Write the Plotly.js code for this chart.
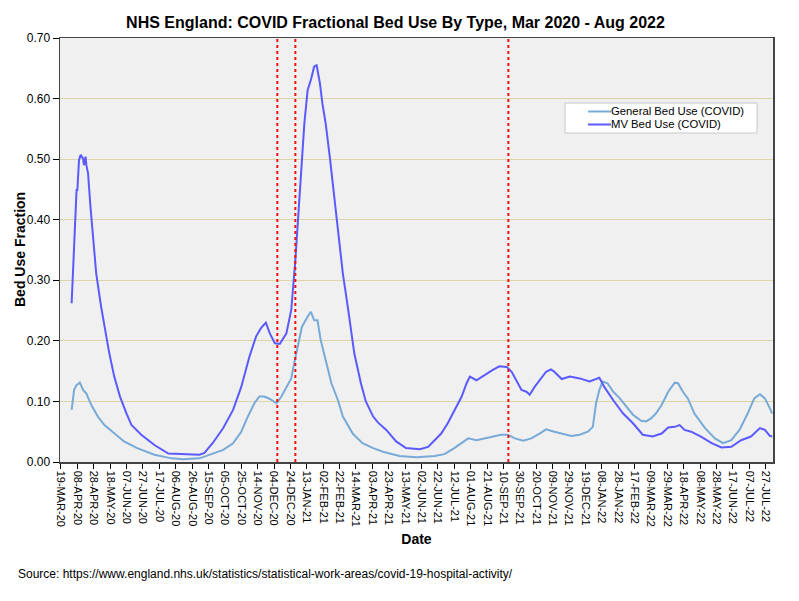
<!DOCTYPE html>
<html>
<head>
<meta charset="utf-8">
<script src="https://cdn.plot.ly/plotly-3.0.1.min.js"></script>
<style>html,body{margin:0;padding:0;background:#fff;}#chart{width:799px;height:601px;}</style>
</head>
<body>
<div id="chart"></div>
<script>
// MV (mechanical ventilation) bed use fraction
const mvDates = ["2020-04-01","2020-04-05","2020-04-07","2020-04-08","2020-04-10","2020-04-12","2020-04-15","2020-04-16","2020-04-18","2020-04-19","2020-04-21","2020-04-24","2020-04-27","2020-05-01","2020-05-07","2020-05-13","2020-05-17","2020-05-23","2020-05-30","2020-06-07","2020-06-13","2020-06-25","2020-07-11","2020-07-28","2020-08-09","2020-09-04","2020-09-10","2020-09-20","2020-10-03","2020-10-15","2020-10-25","2020-11-04","2020-11-12","2020-11-18","2020-11-24","2020-11-29","2020-12-05","2020-12-11","2020-12-19","2020-12-25","2020-12-30","2021-01-02","2021-01-06","2021-01-10","2021-01-14","2021-01-18","2021-01-22","2021-01-25","2021-01-29","2021-02-01","2021-02-05","2021-02-10","2021-02-14","2021-02-20","2021-02-26","2021-03-04","2021-03-12","2021-03-20","2021-03-26","2021-04-04","2021-04-10","2021-04-20","2021-05-02","2021-05-14","2021-05-31","2021-06-10","2021-06-18","2021-06-26","2021-07-04","2021-07-12","2021-07-21","2021-07-27","2021-07-31","2021-08-08","2021-08-18","2021-08-28","2021-09-05","2021-09-14","2021-09-20","2021-09-26","2021-10-02","2021-10-08","2021-10-12","2021-10-18","2021-10-26","2021-11-01","2021-11-07","2021-11-11","2021-11-20","2021-11-30","2021-12-12","2021-12-24","2022-01-05","2022-01-11","2022-01-22","2022-02-03","2022-02-15","2022-02-27","2022-03-11","2022-03-22","2022-03-30","2022-04-07","2022-04-13","2022-04-19","2022-04-27","2022-05-09","2022-05-22","2022-06-03","2022-06-15","2022-06-27","2022-07-09","2022-07-20","2022-07-26","2022-08-01","2022-08-04"];
const mvValues = [0.262,0.394,0.449,0.449,0.499,0.507,0.501,0.490,0.504,0.490,0.477,0.421,0.367,0.311,0.256,0.207,0.179,0.141,0.108,0.080,0.061,0.045,0.028,0.014,0.013,0.012,0.015,0.031,0.056,0.086,0.124,0.174,0.207,0.221,0.230,0.212,0.196,0.195,0.212,0.251,0.333,0.388,0.477,0.559,0.614,0.631,0.653,0.655,0.625,0.592,0.559,0.504,0.455,0.378,0.311,0.256,0.179,0.130,0.100,0.075,0.065,0.053,0.034,0.023,0.021,0.025,0.036,0.047,0.064,0.086,0.108,0.130,0.141,0.135,0.144,0.152,0.158,0.157,0.149,0.133,0.119,0.116,0.111,0.124,0.138,0.149,0.153,0.149,0.137,0.141,0.138,0.133,0.139,0.124,0.102,0.080,0.064,0.045,0.042,0.047,0.057,0.058,0.061,0.053,0.050,0.042,0.031,0.024,0.025,0.036,0.042,0.056,0.053,0.043,0.042];

// General bed use fraction
const genDates = ["2020-04-01","2020-04-04","2020-04-07","2020-04-11","2020-04-15","2020-04-19","2020-04-25","2020-05-03","2020-05-11","2020-05-23","2020-06-04","2020-06-20","2020-07-11","2020-08-01","2020-08-15","2020-09-04","2020-09-16","2020-10-03","2020-10-15","2020-10-25","2020-11-02","2020-11-10","2020-11-16","2020-11-22","2020-11-29","2020-12-07","2020-12-13","2020-12-19","2020-12-25","2020-12-29","2021-01-03","2021-01-07","2021-01-14","2021-01-18","2021-01-22","2021-01-26","2021-01-30","2021-02-06","2021-02-12","2021-02-20","2021-02-26","2021-03-10","2021-03-22","2021-04-04","2021-04-16","2021-05-06","2021-05-27","2021-06-18","2021-06-30","2021-07-12","2021-07-23","2021-07-29","2021-08-08","2021-08-18","2021-08-28","2021-09-07","2021-09-15","2021-09-24","2021-10-04","2021-10-14","2021-10-24","2021-11-01","2021-11-11","2021-11-22","2021-12-02","2021-12-12","2021-12-22","2021-12-28","2022-01-01","2022-01-05","2022-01-09","2022-01-15","2022-01-22","2022-01-30","2022-02-07","2022-02-15","2022-02-25","2022-03-03","2022-03-09","2022-03-15","2022-03-22","2022-03-30","2022-04-07","2022-04-11","2022-04-17","2022-04-23","2022-05-01","2022-05-14","2022-05-26","2022-06-05","2022-06-15","2022-06-25","2022-07-05","2022-07-13","2022-07-20","2022-07-26","2022-08-01","2022-08-04"];
const genValues = [0.086,0.119,0.127,0.131,0.119,0.113,0.094,0.075,0.061,0.047,0.034,0.023,0.012,0.006,0.0045,0.006,0.012,0.020,0.031,0.050,0.075,0.097,0.108,0.108,0.104,0.097,0.108,0.124,0.138,0.166,0.196,0.223,0.240,0.248,0.234,0.234,0.201,0.163,0.130,0.102,0.075,0.047,0.031,0.023,0.017,0.010,0.008,0.010,0.013,0.023,0.034,0.039,0.036,0.039,0.042,0.045,0.045,0.039,0.035,0.039,0.047,0.054,0.050,0.046,0.043,0.045,0.050,0.058,0.097,0.119,0.133,0.130,0.116,0.105,0.091,0.078,0.068,0.067,0.072,0.080,0.094,0.116,0.131,0.130,0.116,0.105,0.080,0.056,0.039,0.031,0.036,0.053,0.080,0.105,0.112,0.105,0.089,0.080];

// x-axis ticks
const tickDates = ["2020-03-19","2020-04-08","2020-04-28","2020-05-18","2020-06-07","2020-06-27","2020-07-17","2020-08-06","2020-08-26","2020-09-15","2020-10-05","2020-10-25","2020-11-14","2020-12-04","2020-12-24","2021-01-13","2021-02-02","2021-02-22","2021-03-14","2021-04-03","2021-04-23","2021-05-13","2021-06-02","2021-06-22","2021-07-12","2021-08-01","2021-08-21","2021-09-10","2021-09-30","2021-10-20","2021-11-09","2021-11-29","2021-12-19","2022-01-08","2022-01-28","2022-02-17","2022-03-09","2022-03-29","2022-04-18","2022-05-08","2022-05-28","2022-06-17","2022-07-07","2022-07-27"];
const tickLabels = ["19-MAR-20","08-APR-20","28-APR-20","18-MAY-20","07-JUN-20","27-JUN-20","17-JUL-20","06-AUG-20","26-AUG-20","15-SEP-20","05-OCT-20","25-OCT-20","14-NOV-20","04-DEC-20","24-DEC-20","13-JAN-21","02-FEB-21","22-FEB-21","14-MAR-21","03-APR-21","23-APR-21","13-MAY-21","02-JUN-21","22-JUN-21","12-JUL-21","01-AUG-21","21-AUG-21","10-SEP-21","30-SEP-21","20-OCT-21","09-NOV-21","29-NOV-21","19-DEC-21","08-JAN-22","28-JAN-22","17-FEB-22","09-MAR-22","29-MAR-22","18-APR-22","08-MAY-22","28-MAY-22","17-JUN-22","07-JUL-22","27-JUL-22"];

// vertical marker dates
const markerDates = ["2020-12-08","2020-12-30","2021-09-16"];

const seriesNames = ["General Bed Use (COVID)", "MV Bed Use (COVID)"];
const seriesColors = ["#78aad8", "#5a5aff"];

const FONT = "Arial, 'Liberation Sans', sans-serif";

const traces = [
  {x: genDates, y: genValues, type: "scatter", mode: "lines", name: seriesNames[0],
   line: {color: seriesColors[0], width: 2}},
  {x: mvDates, y: mvValues, type: "scatter", mode: "lines", name: seriesNames[1],
   line: {color: seriesColors[1], width: 2}}
];

// plot area in pixels: left 60, right 773, top 38, bottom 462
const PW = 713, PH = 424;
const px = v => (v - 60) / PW;
const py = v => (462 - v) / PH;

const shapes = markerDates.map(d => ({
  type: "line", xref: "x", yref: "paper", x0: d, x1: d, y0: 0, y1: 1,
  line: {color: "#ee1111", width: 2, dash: "dot"}, layer: "above"
}));

// legend box
shapes.push({type: "rect", xref: "paper", yref: "paper", x0: px(565), x1: px(757), y0: py(133), y1: py(103),
  fillcolor: "#ffffff", line: {color: "#c8c8c8", width: 1}, layer: "above"});
const annotations = [];
seriesNames.forEach((nm, i) => {
  const yy = 111.5 + i * 13;
  shapes.push({type: "line", xref: "paper", yref: "paper", x0: px(588), x1: px(611), y0: py(yy), y1: py(yy),
    line: {color: seriesColors[i], width: 2}, layer: "above"});
  annotations.push({text: nm, xref: "paper", yref: "paper", x: px(610), y: py(yy), xanchor: "left", yanchor: "middle",
    showarrow: false, borderpad: 0, font: {family: FONT, size: 11.3, color: "#000"}});
});

annotations.push({
  text: "<b>Bed Use Fraction</b>", xref: "paper", yref: "paper", x: px(20), y: py(250),
  xanchor: "center", yanchor: "middle", textangle: -90, showarrow: false,
  font: {family: FONT, size: 14, color: "#000"}
});
annotations.push({
  text: "Source: https://www.england.nhs.uk/statistics/statistical-work-areas/covid-19-hospital-activity/",
  xref: "paper", yref: "paper", x: px(16), y: py(574), xanchor: "left", yanchor: "middle",
  showarrow: false, font: {family: FONT, size: 12, color: "#000"}
});

const layout = {
  width: 799, height: 601,
  margin: {l: 60, r: 26, t: 38, b: 139},
  paper_bgcolor: "#ffffff",
  plot_bgcolor: "#f0f0f0",
  font: {family: FONT, size: 12, color: "#000"},
  title: {text: "<b>NHS England: COVID Fractional Bed Use By Type, Mar 2020 - Aug 2022</b>",
          font: {family: FONT, size: 16, color: "#000"},
          x: 0.495, xref: "container", xanchor: "center", y: 1 - 22/601, yref: "container", yanchor: "middle"},
  xaxis: {
    type: "date",
    range: ["2020-03-17 19:00", "2022-08-04 22:00"],
    tickvals: tickDates, ticktext: tickLabels, tickangle: 90,
    tickfont: {family: FONT, size: 11, color: "#000"},
    ticks: "outside", ticklen: 5, tickcolor: "#000",
    showgrid: false, zeroline: false,
    showline: true, linecolor: "#444", linewidth: 1.5, mirror: true,
    title: {text: "<b>Date</b>", font: {family: FONT, size: 14, color: "#000"}, standoff: 8}
  },
  yaxis: {
    range: [0, 0.7], dtick: 0.1, tickformat: ".2f",
    tickfont: {family: FONT, size: 12, color: "#000"},
    ticks: "outside", ticklen: 6, tickcolor: "#000",
    showgrid: true, gridcolor: "#dbd5a8", gridwidth: 1, zeroline: false,
    showline: true, linecolor: "#444", linewidth: 1.5, mirror: true
  },
  shapes: shapes,
  annotations: annotations,
  showlegend: false
};

Plotly.newPlot("chart", traces, layout, {displayModeBar: false, staticPlot: true});
</script>
</body>
</html>
